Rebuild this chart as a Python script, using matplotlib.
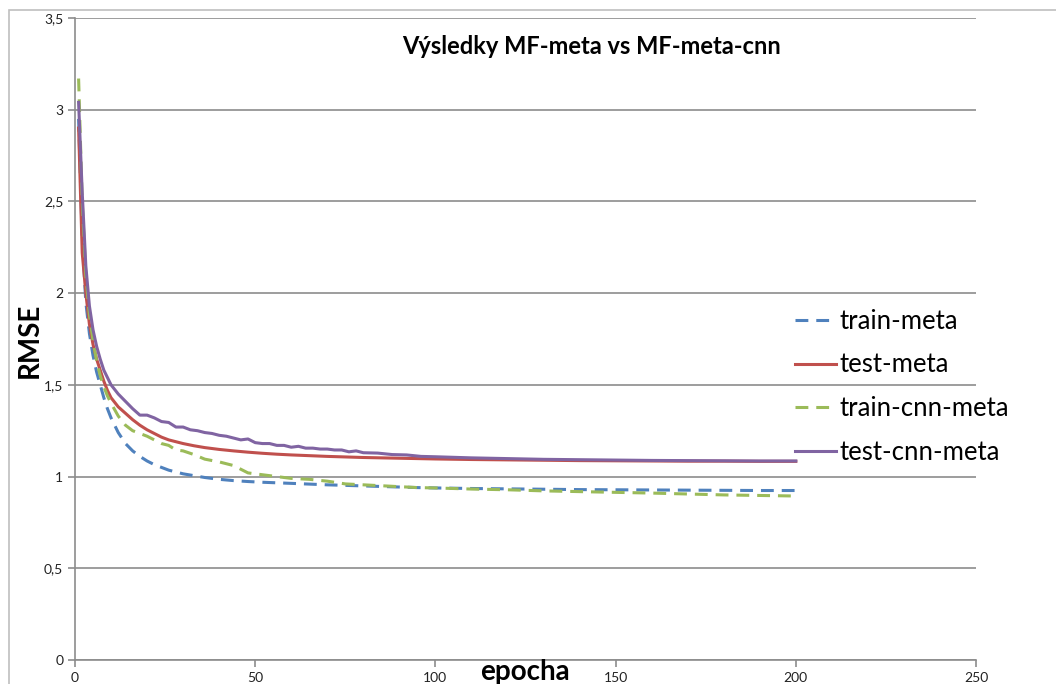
import matplotlib
matplotlib.use('Agg')
import matplotlib.pyplot as plt
from matplotlib.patches import Rectangle
from matplotlib.ticker import FuncFormatter

plt.rcParams['font.family'] = ['Lato', 'DejaVu Sans']

# hodnoty
epochy = [1, 2, 3, 4, 5, 6, 7, 8, 9, 10, 12, 14, 16, 18, 20, 22, 24, 26, 28, 30,
          33, 36, 40, 44, 48, 52, 56, 60, 65, 70, 75, 80, 85, 90, 95, 100,
          110, 120, 130, 140, 150, 160, 170, 180, 190, 200]

train_meta = [2.95, 2.30, 1.95, 1.78, 1.66, 1.57, 1.50, 1.43, 1.37, 1.32, 1.24, 1.18,
              1.14, 1.11, 1.085, 1.065, 1.05, 1.035, 1.025, 1.015, 1.005, 0.995, 0.985,
              0.978, 0.973, 0.969, 0.966, 0.963, 0.959, 0.955, 0.952, 0.949, 0.946,
              0.943, 0.940, 0.938, 0.935, 0.933, 0.931, 0.929, 0.928, 0.927, 0.926,
              0.925, 0.924, 0.924]

test_meta = [2.90, 2.22, 2.00, 1.83, 1.72, 1.64, 1.58, 1.52, 1.47, 1.43, 1.38, 1.345,
             1.31, 1.28, 1.255, 1.235, 1.215, 1.20, 1.19, 1.18, 1.168, 1.158, 1.148,
             1.14, 1.133, 1.127, 1.122, 1.118, 1.114, 1.11, 1.107, 1.104, 1.102, 1.10,
             1.098, 1.096, 1.093, 1.091, 1.089, 1.087, 1.086, 1.085, 1.084, 1.084,
             1.083, 1.083]

train_cnn_meta = [3.17, 2.50, 2.10, 1.88, 1.74, 1.63, 1.55, 1.49, 1.44, 1.40, 1.33, 1.28,
                  1.25, 1.235, 1.22, 1.20, 1.18, 1.17, 1.145, 1.14, 1.12, 1.095, 1.08,
                  1.06, 1.02, 1.01, 1.0, 0.99, 0.985, 0.975, 0.96, 0.955, 0.95, 0.945,
                  0.94, 0.938, 0.932, 0.928, 0.922, 0.918, 0.914, 0.91, 0.905, 0.90,
                  0.897, 0.894]

epochy_p = [1, 2, 3, 4, 5, 6, 7, 8, 9, 10, 12, 14, 16, 18, 20, 22, 24, 26, 28, 30,
            32, 34, 36, 38, 40, 42, 44, 46, 48, 50, 52, 54, 56, 58, 60, 62, 64, 66,
            68, 70, 72, 74, 76, 78, 80, 84, 88, 92, 96, 100, 110, 120, 130, 140,
            150, 160, 170, 180, 190, 200]

test_cnn_meta = [3.04, 2.55, 2.15, 1.93, 1.80, 1.71, 1.64, 1.58, 1.54, 1.50, 1.45, 1.41,
                 1.37, 1.335, 1.335, 1.32, 1.30, 1.295, 1.27, 1.27, 1.255, 1.25, 1.24,
                 1.235, 1.225, 1.22, 1.21, 1.20, 1.205, 1.185, 1.18, 1.18, 1.17, 1.17,
                 1.16, 1.165, 1.155, 1.155, 1.15, 1.15, 1.145, 1.145, 1.135, 1.14, 1.13,
                 1.128, 1.12, 1.118, 1.11, 1.108, 1.102, 1.098, 1.094, 1.092, 1.09,
                 1.088, 1.087, 1.086, 1.085, 1.085]

fig = plt.figure(figsize=(10.56, 6.84), dpi=100)
ax = fig.add_axes([75 / 1056, 1 - 660 / 684, 901 / 1056, 642 / 684])

# ramecek grafu (oriznuty)
fig.patches.append(Rectangle((9 / 1056, -0.2), 1.2, 1.2 - 10 / 684,
                             transform=fig.transFigure, fill=False,
                             edgecolor='#BFBFBF', linewidth=1.2))

lw = 2.2
ax.plot(epochy, train_meta, color='#4F81BD', lw=lw, dashes=(4.2, 2.6), label='train-meta')
ax.plot(epochy, test_meta, color='#C0504D', lw=lw, label='test-meta')
ax.plot(epochy, train_cnn_meta, color='#9BBB59', lw=lw, dashes=(4.2, 2.6), label='train-cnn-meta')
ax.plot(epochy_p, test_cnn_meta, color='#8064A2', lw=lw, label='test-cnn-meta')

ax.set_xlim(0, 250)
ax.set_ylim(0, 3.5)
ax.set_xticks([0, 50, 100, 150, 200, 250])
ax.set_yticks([0, 0.5, 1, 1.5, 2, 2.5, 3, 3.5])
ax.yaxis.set_major_formatter(FuncFormatter(lambda v, p: ('%g' % v).replace('.', ',')))
ax.grid(axis='y', color='#8C8C8C', linewidth=1.2)
ax.set_axisbelow(True)
for s in ['top', 'right']:
    ax.spines[s].set_visible(False)
for s in ['left', 'bottom']:
    ax.spines[s].set_color('#8C8C8C')
    ax.spines[s].set_linewidth(1.2)
ax.tick_params(colors='#8C8C8C', labelcolor='#222222', labelsize=10, length=5, width=1.2)

fig.text(30 / 1056, 1 - 340 / 684, 'RMSE', rotation=90, fontsize=20, fontweight='bold',
         ha='center', va='center')
fig.text(525 / 1056, 1 - 672 / 684, 'epocha', fontsize=20, fontweight='bold',
         ha='center', va='center')
fig.text(592 / 1056, 1 - 46 / 684, 'Výsledky MF-meta vs MF-meta-cnn', fontsize=17,
         fontweight='bold', ha='center', va='center')

ax.legend(loc='upper left', bbox_to_anchor=(795 / 1056, 1 - 309 / 684),
          bbox_transform=fig.transFigure, frameon=False, fontsize=18.5,
          handlelength=1.6, handletextpad=0.15, labelspacing=0.72,
          borderpad=0, borderaxespad=0)

fig.savefig('out.png', dpi=100)
